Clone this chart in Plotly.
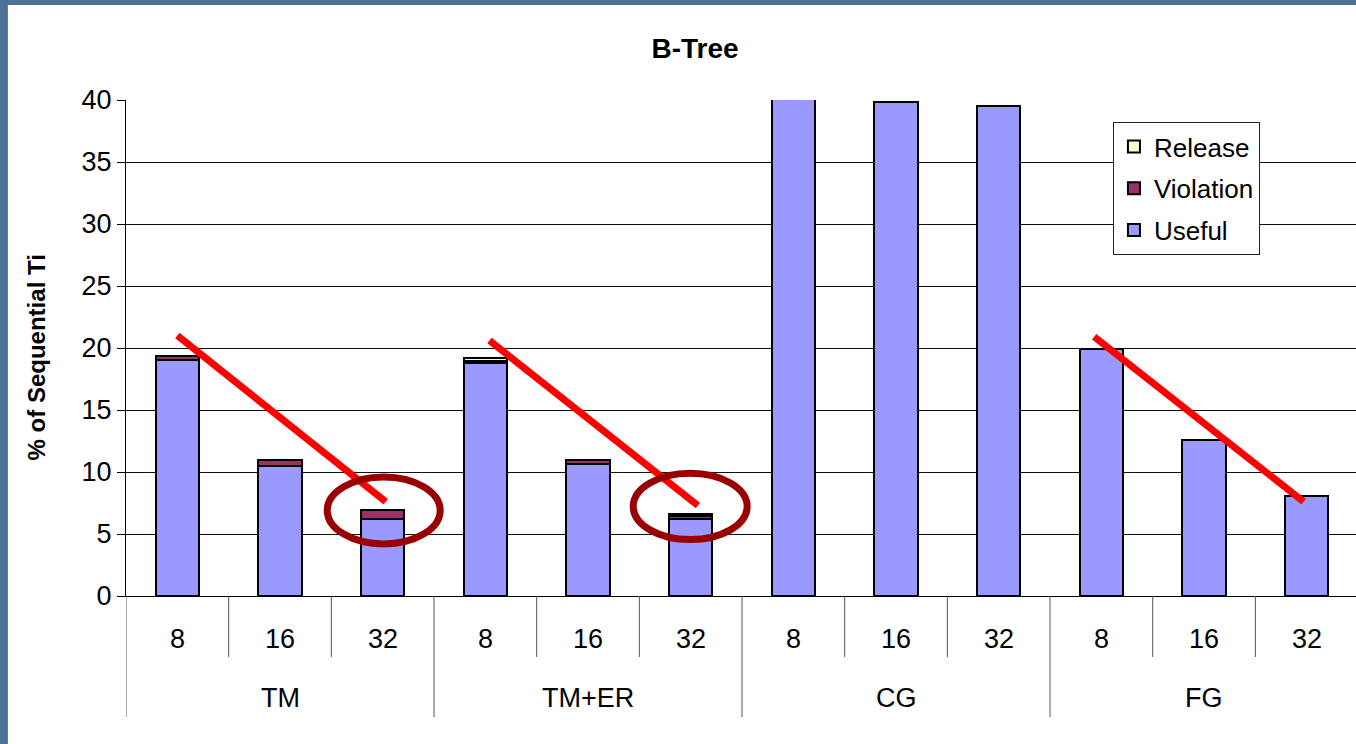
import plotly.graph_objects as go

# ---- data ----
groups = ["TM", "TM+ER", "CG", "FG"]
threads = ["8", "16", "32"]
useful = [19.0, 10.5, 6.25, 18.8, 10.65, 6.2, 40.6, 39.8, 39.5, 19.9, 12.55, 8.05]
violation = [0.35, 0.5, 0.68, 0.15, 0.3, 0.25, 0.0, 0.0, 0.0, 0.0, 0.0, 0.0]
release = [0.0, 0.0, 0.0, 0.25, 0.05, 0.15, 0.0, 0.0, 0.0, 0.0, 0.0, 0.0]
y_ticks = [0, 5, 10, 15, 20, 25, 30, 35, 40]

# emphasis marks drawn over the chart (data coordinates)
trend_x0 = [0.0, 3.04, 8.93]
trend_y0 = [21.0, 20.6, 20.9]
trend_x1 = [2.03, 5.07, 10.97]
trend_y1 = [7.6, 7.3, 7.6]
ring_x0 = [1.46, 4.44]
ring_x1 = [2.56, 5.55]
ring_y0 = [4.2, 4.55]
ring_y1 = [9.6, 9.9]

n = len(groups) * len(threads)
xs = list(range(n))
FONT = "Liberation Sans, Arial, sans-serif"

fig = go.Figure()
series = [("Useful", useful, "#9999FF", 3), ("Violation", violation, "#993366", 2), ("Release", release, "#FFFFCC", 1)]
for name, vals, col, rank in series:
    fig.add_trace(go.Bar(
        x=xs, y=vals, name=name, legendgroup=name, legendrank=rank,
        marker=dict(color=col, line=dict(color="black", width=2)),
        width=0.42,
    ))

shapes = []
# white chart canvas over the blue slide background
shapes.append(dict(type="rect", xref="paper", yref="paper", x0=-0.096, x1=1.05, y0=-0.4, y1=1.1915,
                   fillcolor="white", line=dict(width=0), layer="below"))
# separators below the axis
for k in range(n + 1):
    xb = k - 0.5
    is_group = (k % 3 == 0)
    shapes.append(dict(type="line", xref="x", yref="paper", x0=xb, x1=xb,
                       y0=0, y1=(-0.244 if is_group else -0.123),
                       line=dict(color="#555555", width=1)))
# red trend lines
for a, b, c, d in zip(trend_x0, trend_y0, trend_x1, trend_y1):
    shapes.append(dict(type="line", xref="x", yref="y", x0=a, y0=b, x1=c, y1=d,
                       line=dict(color="#FF0000", width=7)))
# dark red ellipses
for a, b, c, d in zip(ring_x0, ring_y0, ring_x1, ring_y1):
    shapes.append(dict(type="circle", xref="x", yref="y", x0=a, y0=b, x1=c, y1=d,
                       line=dict(color="#990000", width=7)))

annotations = []
for gi, g in enumerate(groups):
    for ti, t in enumerate(threads):
        annotations.append(dict(x=gi * 3 + ti, y=-0.0867, xref="x", yref="paper", text=t,
                                showarrow=False, xanchor="center", yanchor="middle",
                                font=dict(family=FONT, size=27, color="black")))
    annotations.append(dict(x=gi * 3 + 1, y=-0.2056, xref="x", yref="paper", text=g,
                            showarrow=False, xanchor="center", yanchor="middle",
                            font=dict(family=FONT, size=27, color="black")))
annotations.append(dict(x=-0.0732, y=0.481, xref="paper", yref="paper", text="<b>% of Sequential Ti</b>",
                        textangle=-90, showarrow=False, xanchor="center", yanchor="middle",
                        font=dict(family=FONT, size=24, color="black")))

fig.update_layout(
    width=1356, height=744,
    margin=dict(l=126, r=0, t=100, b=148),
    paper_bgcolor="#4E719A",
    plot_bgcolor="rgba(0,0,0,0)",
    barmode="stack",
    title=dict(text="<b>B-Tree</b>", x=695 / 1356, xanchor="center", y=1 - 48 / 744, yanchor="middle",
               font=dict(family=FONT, size=28, color="black")),
    xaxis=dict(range=[-0.5, 11.48], showticklabels=False, ticks="", showgrid=False,
               zeroline=False, showline=True, linecolor="black", linewidth=1, fixedrange=True),
    yaxis=dict(range=[0, 40], tickvals=y_ticks, ticks="outside", ticklen=8, tickcolor="black",
               showline=True, linecolor="black", linewidth=1, showgrid=True, gridcolor="#111111",
               gridwidth=1, zeroline=False,
               tickfont=dict(family=FONT, size=27, color="black")),
    legend=dict(x=0.8024, y=0.9556, xanchor="left", yanchor="top", traceorder="grouped",
                tracegroupgap=5, bgcolor="white", bordercolor="#222222", borderwidth=1,
                font=dict(family=FONT, size=26, color="black"), itemwidth=30),
    shapes=shapes,
    annotations=annotations,
    showlegend=True,
)

fig.write_html("out.html", config={"displayModeBar": False},
               post_script="document.body.style.margin='0';document.body.style.overflow='hidden';")
